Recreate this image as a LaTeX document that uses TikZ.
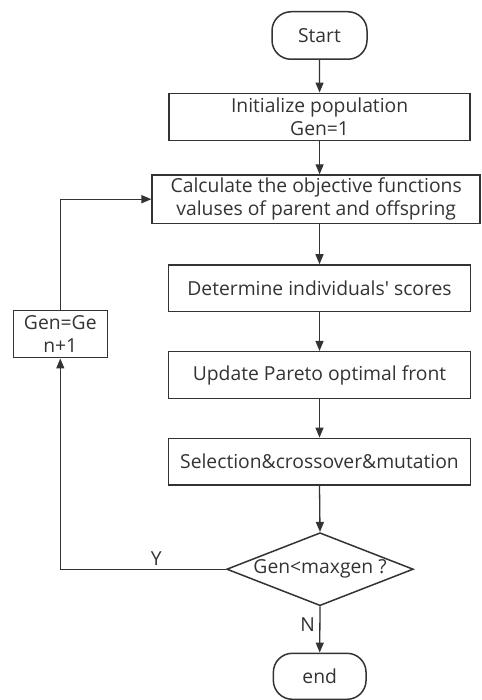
\documentclass[tikz,border=0pt]{standalone}
\usepackage{fontspec}
\setmainfont{Open Sans}
\usetikzlibrary{shapes.geometric,arrows.meta}
\begin{document}
\begin{tikzpicture}[x=1pt,y=-1pt,black!80,
        box/.style={draw,line width=1.5pt,inner sep=0pt,align=center,font=\fontsize{19.3}{23}\selectfont},
        term/.style={box,rounded corners=19pt},
        lbl/.style={font=\fontsize{19.3}{23}\selectfont},
        arr/.style={line width=1.3pt,-{Triangle[length=10pt,width=8pt]}}]
        \useasboundingbox (0,0) rectangle (481,700);
        \node[term,minimum width=95pt,minimum height=47.5pt] (start) at (319.5,35.5) {Start};
        \node[box,minimum width=301pt,minimum height=47.4pt] (init) at (319.6,117) {Initialize population\\Gen=1};
        \node[box,minimum width=328pt,minimum height=48.3pt] (calc) at (316.2,199.2) {Calculate the objective functions\\valuses of parent and offspring};
        \node[box,minimum width=302pt,minimum height=46.7pt] (score) at (319.5,288.3) {Determine individuals\textquotesingle\ scores};
        \node[box,minimum width=302pt,minimum height=46.6pt] (pareto) at (319.5,375) {Update Pareto optimal front};
        \node[box,minimum width=302pt,minimum height=46.7pt] (select) at (319.5,461.7) {Selection\&crossover\&mutation};
        \node[box,diamond,aspect=2.55,minimum width=186.6pt,minimum height=73pt] (check) at (320,569.2) {Gen<maxgen ?};
        \node[box,minimum width=94pt,minimum height=47pt] (incr) at (60.3,334.2) {Gen=Ge\\n+1};
        \node[term,minimum width=92.7pt,minimum height=46pt] (stop) at (319.7,676.3) {end};
        \draw[arr] (start) -- (init);
        \draw[arr] (init.south) -- (init.south |- calc.north);
        \draw[arr] (calc.south -| score.north) -- (score.north);
        \draw[arr] (score) -- (pareto);
        \draw[arr] (pareto) -- (select);
        \draw[arr] (select.south) -- (check.north);
        \draw[arr] (check.south) -- node[lbl,left,pos=0.4,xshift=-1pt] {N} (stop.north);
        \draw[arr] (check.west) -| node[lbl,pos=0.21,above] {Y} (incr.south);
        \draw[arr] (incr.north) |- (calc.west);
    \end{tikzpicture}
\end{document}
